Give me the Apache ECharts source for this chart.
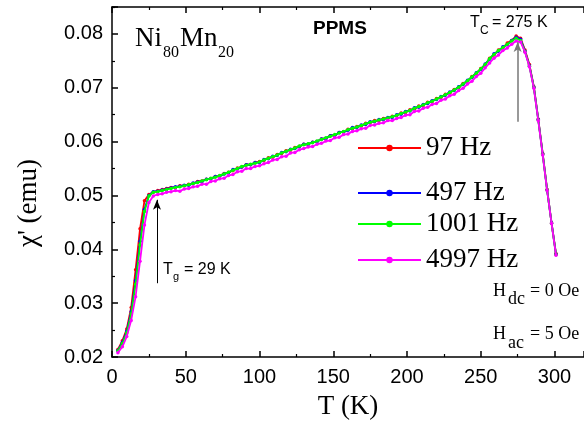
<!DOCTYPE html>
<html>
<head>
<meta charset="utf-8">
<script src="https://cdn.jsdelivr.net/npm/echarts/dist/echarts.min.js"></script>
<style>html,body{margin:0;padding:0;background:#fff;}#chart{width:584px;height:425px;}</style>
</head>
<body>
<div id="chart"></div>
<script>
// Temperature (K)
const temps = [4,7,10,13,16,19,22,25,28,31,34,37,40,43,46,49,52,55,58,61,64,67,70,73,76,79,82,85,88,91,94,97,100,103,106,109,112,115,118,121,124,127,130,133,136,139,142,145,148,151,154,157,160,163,166,169,172,175,178,181,184,187,190,193,196,199,202,205,208,211,214,217,220,223,226,229,232,235,238,241,244,247,250,253,256,259,262,265,268,271,274,277,280,283,286,289,292,295,298,301];

// chi' (emu) for each frequency
const chi97 = [0.0214,0.0230,0.0252,0.0292,0.0362,0.0438,0.0490,0.0502,0.0506,0.0509,0.0511,0.0513,0.0515,0.0515,0.0518,0.0518,0.0521,0.0522,0.0526,0.0527,0.0530,0.0531,0.0535,0.0536,0.0541,0.0543,0.0546,0.0551,0.0553,0.0557,0.0557,0.0561,0.0563,0.0565,0.0570,0.0571,0.0576,0.0578,0.0583,0.0584,0.0589,0.0591,0.0595,0.0595,0.0599,0.0600,0.0605,0.0606,0.0611,0.0612,0.0617,0.0618,0.0623,0.0624,0.0628,0.0629,0.0634,0.0635,0.0639,0.0639,0.0643,0.0643,0.0647,0.0648,0.0653,0.0654,0.0659,0.0660,0.0666,0.0667,0.0673,0.0674,0.0680,0.0682,0.0688,0.0690,0.0697,0.0700,0.0708,0.0712,0.0721,0.0726,0.0736,0.0742,0.0755,0.0761,0.0770,0.0774,0.0783,0.0788,0.0796,0.0792,0.0770,0.0743,0.0702,0.0642,0.0578,0.0511,0.0449,0.0392];
const chi497 = [0.0212,0.0227,0.0248,0.0284,0.0342,0.0415,0.0474,0.0500,0.0507,0.0508,0.0510,0.0512,0.0514,0.0516,0.0517,0.0519,0.0519,0.0523,0.0525,0.0526,0.0530,0.0531,0.0535,0.0536,0.0540,0.0542,0.0548,0.0549,0.0553,0.0557,0.0557,0.0561,0.0561,0.0567,0.0568,0.0573,0.0574,0.0580,0.0581,0.0586,0.0587,0.0591,0.0595,0.0595,0.0599,0.0600,0.0605,0.0606,0.0611,0.0612,0.0617,0.0618,0.0621,0.0626,0.0626,0.0631,0.0632,0.0637,0.0637,0.0641,0.0641,0.0645,0.0645,0.0650,0.0651,0.0656,0.0657,0.0663,0.0664,0.0669,0.0671,0.0676,0.0678,0.0684,0.0686,0.0692,0.0695,0.0702,0.0706,0.0714,0.0719,0.0728,0.0734,0.0744,0.0753,0.0763,0.0768,0.0776,0.0780,0.0788,0.0794,0.0790,0.0768,0.0741,0.0701,0.0641,0.0577,0.0510,0.0449,0.0391];
const chi1001 = [0.0211,0.0225,0.0245,0.0280,0.0335,0.0408,0.0470,0.0499,0.0506,0.0507,0.0509,0.0511,0.0513,0.0515,0.0516,0.0518,0.0520,0.0522,0.0524,0.0527,0.0529,0.0532,0.0534,0.0537,0.0540,0.0543,0.0547,0.0550,0.0554,0.0556,0.0558,0.0560,0.0562,0.0566,0.0569,0.0572,0.0575,0.0579,0.0582,0.0585,0.0588,0.0592,0.0594,0.0596,0.0598,0.0601,0.0604,0.0607,0.0610,0.0613,0.0616,0.0619,0.0622,0.0625,0.0627,0.0630,0.0633,0.0636,0.0638,0.0640,0.0642,0.0644,0.0646,0.0649,0.0652,0.0655,0.0658,0.0662,0.0665,0.0668,0.0672,0.0675,0.0679,0.0683,0.0687,0.0691,0.0696,0.0701,0.0707,0.0713,0.0720,0.0727,0.0735,0.0743,0.0754,0.0762,0.0769,0.0775,0.0781,0.0787,0.0792,0.0788,0.0767,0.0740,0.0700,0.0640,0.0576,0.0510,0.0448,0.0390];
const chi4997 = [0.0208,0.0219,0.0238,0.0268,0.0312,0.0378,0.0445,0.0487,0.0499,0.0502,0.0503,0.0506,0.0507,0.0509,0.0508,0.0512,0.0513,0.0516,0.0517,0.0521,0.0521,0.0526,0.0527,0.0531,0.0532,0.0537,0.0539,0.0544,0.0545,0.0550,0.0550,0.0554,0.0555,0.0559,0.0561,0.0566,0.0567,0.0572,0.0573,0.0579,0.0580,0.0585,0.0587,0.0590,0.0591,0.0595,0.0597,0.0601,0.0602,0.0607,0.0608,0.0613,0.0614,0.0619,0.0620,0.0624,0.0625,0.0630,0.0631,0.0634,0.0635,0.0639,0.0639,0.0643,0.0645,0.0649,0.0650,0.0656,0.0657,0.0662,0.0664,0.0669,0.0671,0.0677,0.0679,0.0685,0.0688,0.0695,0.0699,0.0707,0.0712,0.0721,0.0727,0.0737,0.0746,0.0755,0.0761,0.0769,0.0774,0.0781,0.0787,0.0785,0.0766,0.0739,0.0699,0.0639,0.0575,0.0509,0.0448,0.0389];

const seriesNames = ['97 Hz','497 Hz','1001 Hz','4997 Hz'];
const seriesColors = ['#ff0000','#0000ff','#00ff00','#ff00ff'];
const seriesValues = [chi97, chi497, chi1001, chi4997];

// Arrow annotations (data coordinates)
const tgArrow = [[30.5, 0.0337], [30.5, 0.0492]];
const tcArrow = [[275, 0.0637], [275, 0.0785]];

const chart = echarts.init(document.getElementById('chart'));

const axisLineStyle = {color:'#000', width:1.5};
const series = seriesValues.map((vals, i) => ({
  name: seriesNames[i],
  type: 'line',
  xAxisIndex: 0, yAxisIndex: 0,
  data: temps.map((t, j) => [t, vals[j]]),
  symbol: 'circle',
  symbolSize: 3.5,
  showSymbol: true,
  showAllSymbol: true,
  itemStyle: {color: seriesColors[i]},
  lineStyle: {color: seriesColors[i], width: 1.8},
  animation: false,
  z: 2 + i
}));
series.push({
  type: 'line', data: [], xAxisIndex: 0, yAxisIndex: 0, silent: true, animation: false,
  markLine: {
    silent: true, animation: false, symbol: ['none', 'arrow'], symbolSize: [6, 10],
    label: {show: false},
    data: [
      [{coord: tgArrow[0], lineStyle: {color: '#000', width: 1, type: 'solid'}}, {coord: tgArrow[1]}],
      [{coord: tcArrow[0], lineStyle: {color: '#777', width: 1.5, type: 'solid'}, itemStyle:{color:'#000'}}, {coord: tcArrow[1]}]
    ]
  }
});

const legendY = [148, 193, 224, 260];
const legends = seriesNames.map((n, i) => ({
  data: [n], left: 357, top: legendY[i] - 15, padding: 0,
  itemWidth: 63, itemHeight: 8, itemGap: 0,
  textStyle: {fontFamily: 'Liberation Serif', fontSize: 27, color: '#000', lineHeight: 30},
  selectedMode: false
}));

const sans = 'Liberation Sans';
const serif = 'Liberation Serif';
const txt = (x, y, text, size, family, extra) => ({
  type: 'text', x: x, y: y, silent: true,
  style: Object.assign({text: text, fontSize: size, fontFamily: family, fill: '#000', align: 'left', verticalAlign: 'middle'}, extra || {})
});

chart.setOption({
  animation: false,
  backgroundColor: '#fff',
  grid: {left: 112, right: 0, top: 7, bottom: 66, containLabel: false},
  xAxis: [{
    type: 'value', min: 0, max: 320, interval: 50, position: 'bottom',
    name: 'T (K)', nameLocation: 'middle', nameGap: 36,
    nameTextStyle: {fontFamily: serif, fontSize: 27, color: '#000'},
    axisLine: {show: true, onZero: false, lineStyle: axisLineStyle},
    axisTick: {show: true, inside: true, length: 6, lineStyle: {color: '#000', width: 1.5}},
    minorTick: {show: true, splitNumber: 2, length: 3, lineStyle: {color: '#000', width: 1.2}},
    axisLabel: {fontFamily: sans, fontSize: 20, color: '#000', margin: 10, showMaxLabel: false},
    splitLine: {show: false}
  }, {
    type: 'value', min: 0, max: 320, interval: 50, position: 'top',
    axisLine: {show: true, onZero: false, lineStyle: axisLineStyle},
    axisTick: {show: true, inside: true, length: 6, lineStyle: {color: '#000', width: 1.5}},
    minorTick: {show: true, splitNumber: 2, length: 3, lineStyle: {color: '#000', width: 1.2}},
    axisLabel: {show: false},
    splitLine: {show: false}
  }],
  yAxis: [{
    type: 'value', min: 0.02, max: 0.085, interval: 0.01,
    axisLine: {show: true, onZero: false, lineStyle: axisLineStyle},
    axisTick: {show: true, inside: true, length: 6, lineStyle: {color: '#000', width: 1.5}},
    minorTick: {show: true, splitNumber: 2, length: 3, lineStyle: {color: '#000', width: 1.2}},
    axisLabel: {fontFamily: sans, fontSize: 20, color: '#000', margin: 9, showMaxLabel: false,
      formatter: v => v.toFixed(2)},
    splitLine: {show: false}
  }],
  legend: legends,
  series: series,
  graphic: [
    {type: 'text', x: 29, y: 203, rotation: Math.PI / 2, silent: true,
     style: {text: "\u03c7' (emu)", fontSize: 27, fontFamily: serif, fill: '#000', align: 'center', verticalAlign: 'middle'}},
    txt(135, 38.5, 'Ni', 27, serif),
    txt(163, 52.5, '80', 16, serif),
    txt(180, 38.5, 'Mn', 27, serif),
    txt(218, 52.5, '20', 16, serif),
    txt(313, 29, 'PPMS', 19, sans, {fontWeight: 'bold'}),
    txt(470, 22.5, 'T', 16, sans),
    txt(480, 30.5, 'C', 12, sans),
    txt(492, 22.5, '= 275 K', 16, sans),
    txt(163, 270, 'T', 16, sans),
    txt(173, 277, 'g', 11, sans),
    txt(184, 270, '= 29 K', 16, sans),
    txt(493, 291, 'H', 18, serif),
    txt(508, 299, 'dc', 18, serif),
    txt(530, 291, '= 0 Oe', 18, serif),
    txt(493, 334, 'H', 18, serif),
    txt(508, 343, 'ac', 18, serif),
    txt(530, 334, '= 5 Oe', 18, serif)
  ]
});
</script>
</body>
</html>
